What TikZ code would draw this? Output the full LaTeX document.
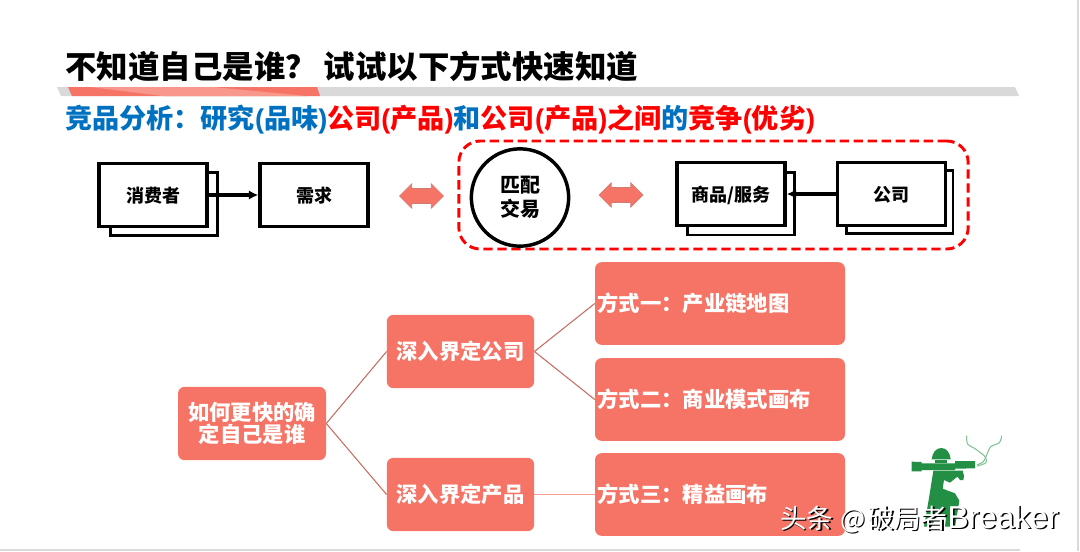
\documentclass[tikz,border=0pt]{standalone}
\usepackage{fontspec}
\setmainfont{Noto Sans CJK SC}
\newfontfamily\latinf{Liberation Sans}
\usetikzlibrary{shapes.arrows,arrows.meta}
\definecolor{salmon}{RGB}{245,116,102}
\definecolor{salmonline}{RGB}{200,110,100}
\definecolor{salmonedge}{RGB}{205,125,115}
\definecolor{barblue}{RGB}{0,112,192}
\definecolor{soldier}{RGB}{34,143,68}
\definecolor{smoke}{RGB}{130,195,150}
\newcommand{\rd}[1]{\textcolor{red}{#1}}
\newcommand{\pl}{{\latinf (}}
\newcommand{\pr}{{\latinf )}}
\tikzset{
  x=0.75pt,y=-0.75pt,
  whitebox/.style={draw=black,line width=2.6pt,fill=white,minimum width=81pt,minimum height=47pt,inner sep=0pt,text height=11.7pt,text depth=0pt,font=\bfseries\fontsize{13.5}{16}\selectfont},
  backbox/.style={draw=black,line width=2pt,fill=white,minimum width=80pt,minimum height=47pt,inner sep=0pt},
  redbox/.style={fill=salmon,rounded corners=5pt,text=white,inner sep=0pt,align=center,font=\bfseries\fontsize{16}{16.5}\selectfont},
  midbox/.style={redbox,minimum width=110.5pt,minimum height=55pt},
  waybox/.style={redbox,minimum width=187.5pt,minimum height=62pt,text width=184pt,align=left},
  twoarrow/.style={double arrow,draw=salmonedge,fill=salmon,line width=0.5pt,minimum width=0pt,minimum height=33pt,double arrow head extend=3.5pt,double arrow head indent=0pt,inner xsep=0pt,inner ysep=5.4pt},
  treeline/.style={draw=salmonline,line width=0.8pt},
  flowline/.style={draw=black,line width=2.4pt,-{Latex[length=7pt,width=7pt]}},
}
\begin{document}
\begin{tikzpicture}
\useasboundingbox (0,0) rectangle (1080,551);
\fill[white] (0,0) rectangle (1080,551);
\draw[gray!30,line width=0.8pt] (1078,0) -- (1078,551);
\draw[gray!30,line width=0.8pt] (0,550) -- (1020,550);
% title
\node[anchor=west,inner sep=0pt,font=\bfseries\fontsize{23.6}{28}\selectfont] (title) at (65,66) {不知道自己是谁？\hspace{5pt}试试以下方式快速知道};
\fill[gray!30] (57,87) -- (1015,87) -- (1019,96) -- (61,96) -- cycle;
\fill[salmon] (68,87) -- (317,87) -- (320,96) -- (72,96) -- cycle;
\fill[salmon!75!white] (90,87) -- (213,87) -- (307,96) -- (163,96) -- cycle;
% subtitle
\node[anchor=west,inner sep=0pt,text=barblue,font=\bfseries\fontsize{20.33}{24}\selectfont] (sub) at (65,120)
 {竞品分析：研究\pl 品味\pr\rd{公司\pl 产品\pr}和\rd{公司\pl 产品\pr 之间}的\rd{竞争\pl 优劣\pr}};
% dashed frame
\node[draw=red,line width=2.2pt,dash pattern=on 7pt off 3.5pt,rounded corners=16pt,minimum width=382pt,minimum height=81pt,inner sep=0pt] (frame) at (713.5,195) {};
% top row
\node[backbox] (consumerback) at (164,204) {};
\node[whitebox] (consumer) at (153,195) {消费者};
\node[whitebox] (need) at (314,195) {需求};
\draw[flowline] (consumer.east) -- (need.west);
\node[twoarrow] (arrowa) at (421.5,196) {};
\node[draw=black,line width=2.6pt,circle,minimum size=73pt,inner sep=0pt,align=center,font=\bfseries\fontsize{15}{18}\selectfont] (match) at (520,197.5) {匹配\\交易};
\node[twoarrow] (arrowb) at (621,195) {};
\node[backbox] (goodsback) at (741,203.5) {};
\node[whitebox] (goods) at (731,194) {商品/服务};
\node[backbox] (companyback) at (899.5,202) {};
\node[whitebox] (company) at (891.5,194) {公司};
\draw[flowline] (company.west) -- (goods.east);
% tree
\node[redbox,minimum width=111pt,minimum height=55pt] (root) at (252,423.5) {如何更快的确\\定自己是谁};
\node[midbox] (deepco) at (460.5,351.5) {深入界定公司};
\node[midbox] (deeppr) at (460.5,494.5) {深入界定产品};
\node[waybox] (way1) at (720,303.5) {方式一：产业链地图};
\node[waybox] (way2) at (720,399.5) {方式二：商业模式画布};
\node[waybox] (way3) at (720,494.5) {方式三：精益画布};
\draw[treeline] (root.east) -- (deepco.west);
\draw[treeline] (root.east) -- (deeppr.west);
\draw[treeline] (deepco.east) -- (way1.west);
\draw[treeline] (deepco.east) -- (way2.west);
\draw[treeline,draw=salmon!70!white,line width=1pt] (deeppr.east) -- (way3.west);
% soldier emblem
\begin{scope}[shift={(900,430)},x=0.25pt,y=-0.25pt]
\fill[soldier] (35,95) -- (65,96) -- (65,100) -- (165,100) -- (165,93) -- (225,93) -- (225,115) -- (165,116) -- (165,120) -- (65,120) -- (65,124) -- (35,124) -- cycle;
\fill[soldier] (95,88) .. controls (97,68) and (108,54) .. (124,54) .. controls (140,54) and (150,68) .. (152,88) -- cycle;
\fill[soldier] (105,90) rectangle (142,100);
\fill[soldier] (100,122) -- (188,122) -- (192,138) -- (190,150) -- (180,150) -- (172,140) -- (150,158) -- (132,150) -- (128,176) -- (165,190) -- (178,212) -- (165,290) -- (135,290) -- (138,262) -- (108,260) -- (95,290) -- (72,290) -- (86,210) -- cycle;
\draw[smoke,line width=0.8pt,line cap=round] plot[smooth] coordinates {(200,18) (203,42) (228,58) (255,80) (258,98) (232,108)};
\draw[smoke,line width=0.8pt,line cap=round] plot[smooth] coordinates {(305,18) (298,38) (272,50) (262,70) (250,95) (232,104)};
\end{scope}
% watermark
\node[anchor=west,inner sep=0pt,text=black,font=\fontsize{20}{24}\selectfont] (wmshadow) at (781.5,520.5) {头条\hspace{5pt}@\hspace{1.5pt}破局者{\latinf\fontsize{23.8}{24}\selectfont Breaker}};
\node[anchor=west,inner sep=0pt,text=white,font=\fontsize{20}{24}\selectfont] (wm) at (780,519) {头条\hspace{5pt}@\hspace{1.5pt}破局者{\latinf\fontsize{23.8}{24}\selectfont Breaker}};
\end{tikzpicture}
\end{document}
